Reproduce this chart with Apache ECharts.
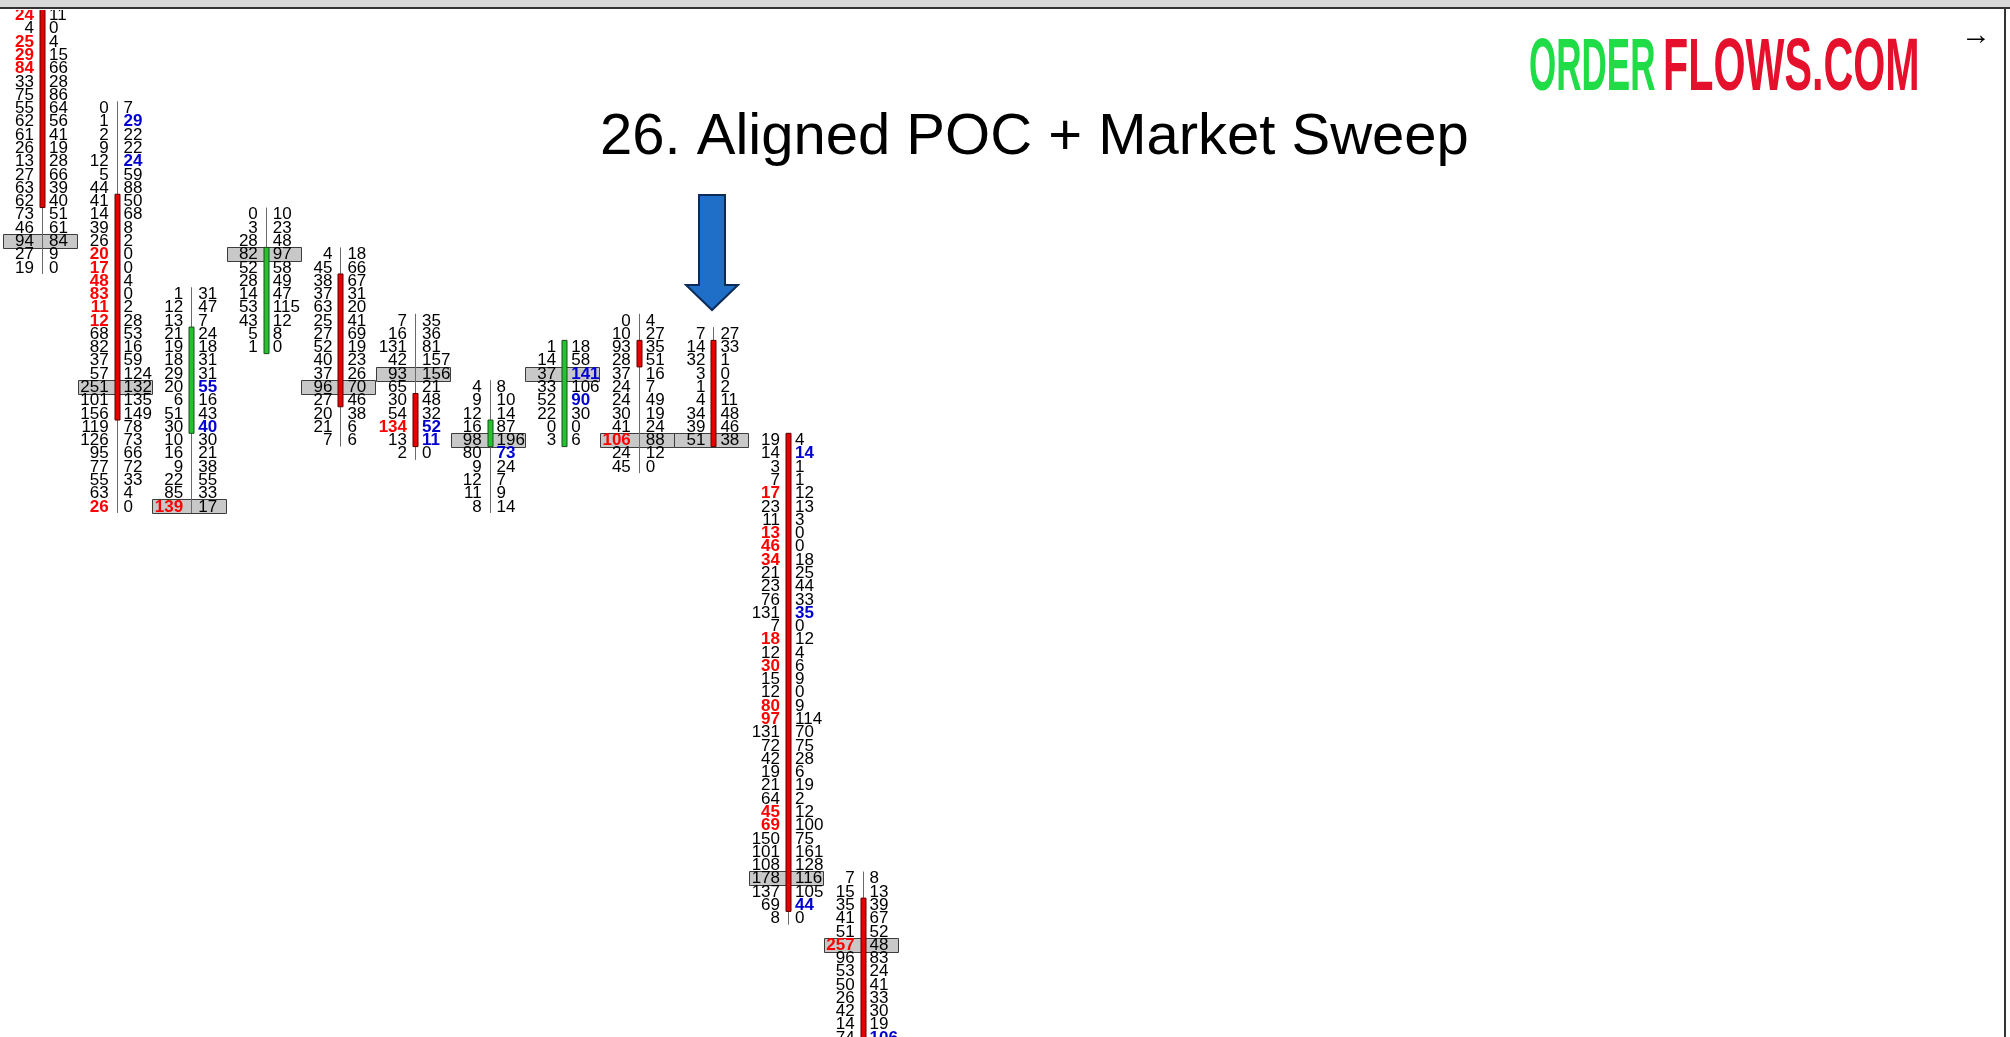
<!DOCTYPE html>
<html>
<head>
<meta charset="utf-8">
<script src="https://cdn.jsdelivr.net/npm/echarts@6/dist/echarts.min.js"></script>
<style>
  html, body { margin: 0; padding: 0; background: #fff; }
  #chart { width: 2010px; height: 1037px; }
</style>
</head>
<body>
<div id="chart"></div>
<script>
// footprint columns, left to right. row 0 = top visible price level, one row per tick
var topRows = [0, 7, 21, 15, 18, 23, 28, 25, 23, 24, 32, 65];

var bids = [
  [24, 4, 25, 29, 84, 33, 75, 55, 62, 61, 26, 13, 27, 63, 62, 73, 46, 94, 27, 19],
  [0, 1, 2, 9, 12, 5, 44, 41, 14, 39, 26, 20, 17, 48, 83, 11, 12, 68, 82, 37, 57, 251, 101, 156, 119, 126, 95, 77, 55, 63, 26],
  [1, 12, 13, 21, 19, 18, 29, 20, 6, 51, 30, 10, 16, 9, 22, 85, 139],
  [0, 3, 28, 82, 52, 28, 14, 53, 43, 5, 1],
  [4, 45, 38, 37, 63, 25, 27, 52, 40, 37, 96, 27, 20, 21, 7],
  [7, 16, 131, 42, 93, 65, 30, 54, 134, 13, 2],
  [4, 9, 12, 16, 98, 80, 9, 12, 11, 8],
  [1, 14, 37, 33, 52, 22, 0, 3],
  [0, 10, 93, 28, 37, 24, 24, 30, 41, 106, 24, 45],
  [7, 14, 32, 3, 1, 4, 34, 39, 51],
  [19, 14, 3, 7, 17, 23, 11, 13, 46, 34, 21, 23, 76, 131, 7, 18, 12, 30, 15, 12, 80, 97, 131, 72, 42, 19, 21, 64, 45, 69, 150, 101, 108, 178, 137, 69, 8],
  [7, 15, 35, 41, 51, 257, 96, 53, 50, 26, 42, 14, 74]
];

var asks = [
  [11, 0, 4, 15, 66, 28, 86, 64, 56, 41, 19, 28, 66, 39, 40, 51, 61, 84, 9, 0],
  [7, 29, 22, 22, 24, 59, 88, 50, 68, 8, 2, 0, 0, 4, 0, 2, 28, 53, 16, 59, 124, 132, 135, 149, 78, 73, 66, 72, 33, 4, 0],
  [31, 47, 7, 24, 18, 31, 31, 55, 16, 43, 40, 30, 21, 38, 55, 33, 17],
  [10, 23, 48, 97, 58, 49, 47, 115, 12, 8, 0],
  [18, 66, 67, 31, 20, 41, 69, 19, 23, 26, 70, 46, 38, 6, 6],
  [35, 36, 81, 157, 156, 21, 48, 32, 52, 11, 0],
  [8, 10, 14, 87, 196, 73, 24, 7, 9, 14],
  [18, 58, 141, 106, 90, 30, 0, 6],
  [4, 27, 35, 51, 16, 7, 49, 19, 24, 88, 12, 0],
  [27, 33, 1, 0, 2, 11, 48, 46, 38],
  [4, 14, 1, 1, 12, 13, 3, 0, 0, 18, 25, 44, 33, 35, 0, 12, 4, 6, 9, 0, 9, 114, 70, 75, 28, 6, 19, 2, 12, 100, 75, 161, 128, 116, 105, 44, 0],
  [8, 13, 39, 67, 52, 48, 83, 24, 41, 33, 30, 19, 106]
];

// index (within column) of the point of control
var pocIdx = [17, 21, 16, 3, 10, 4, 4, 2, 9, 8, 33, 5];

// candle body, in rows
var bodyTop = [0, 14, 24, 18, 20, 29, 31, 25, 25, 25, 32, 67];
var bodyBot = [14, 30, 31, 25, 29, 32, 32, 32, 26, 32, 67, 80];
var bullish = [0, 0, 1, 1, 0, 0, 1, 1, 0, 0, 0, 0];

// imbalance highlights (indices within column)
var redBid = [[0, 2, 3, 4], [11, 12, 13, 14, 15, 16, 30], [16], [], [], [8], [], [], [9], [], [4, 7, 8, 9, 15, 17, 20, 21, 28, 29], [5]];
var blueAsk = [[], [1, 4], [7, 10], [], [], [8, 9], [5], [2, 4], [], [], [1, 13, 35], [12]];

var ROW = 13.28;   // px per price row
var COL = 74.6;    // px per column
var FONT = 'Liberation Sans, Arial, sans-serif';

var bidData = [], askData = [], pocData = [], candleData = [];
bids.forEach(function (col, c) {
  col.forEach(function (v, i) {
    bidData.push([c, topRows[c] + i, v, redBid[c].indexOf(i) >= 0 ? 1 : 0]);
    askData.push([c, topRows[c] + i, asks[c][i], blueAsk[c].indexOf(i) >= 0 ? 1 : 0]);
  });
  pocData.push([c, topRows[c] + pocIdx[c]]);
  candleData.push([c, topRows[c], topRows[c] + col.length - 1, bodyTop[c], bodyBot[c], bullish[c]]);
});

function textRender(side) {
  return function (params, api) {
    var p = api.coord([api.value(0), api.value(1)]);
    var hot = api.value(3);
    var color = hot ? (side === 'bid' ? '#ff0000' : '#0000d2') : '#000';
    return {
      type: 'text',
      x: p[0] + (side === 'bid' ? -8 : 7),
      y: p[1] + 0.5,
      style: {
        text: String(api.value(2)),
        align: side === 'bid' ? 'right' : 'left',
        verticalAlign: 'middle',
        fill: color,
        font: (hot ? 'bold ' : '') + '17px ' + FONT
      }
    };
  };
}

var chart = echarts.init(document.getElementById('chart'));

chart.setOption({
  backgroundColor: '#fff',
  animation: false,
  grid: { left: 0, right: 0, top: 10, bottom: 0 },
  xAxis: { type: 'value', min: -42 / COL, max: (2010 - 42) / COL, show: false },
  yAxis: { type: 'value', inverse: true, min: -5 / ROW, max: -5 / ROW + 1027 / ROW, show: false },
  series: [
    {
      type: 'custom',
      clip: true,
      z: 1,
      data: pocData,
      encode: { x: 0, y: 1 },
      renderItem: function (params, api) {
        var p = api.coord([api.value(0), api.value(1)]);
        return {
          type: 'rect',
          shape: { x: Math.round(p[0]) - 38.5, y: Math.round(p[1]) - 6.5, width: 74, height: 14 },
          style: { fill: '#c8c8c8', stroke: '#3c3c3c', lineWidth: 1 }
        };
      }
    },
    {
      type: 'custom',
      clip: true,
      z: 2,
      data: candleData,
      encode: { x: 0, y: [1, 2] },
      renderItem: function (params, api) {
        var c = api.value(0);
        var hi = api.coord([c, api.value(1) - 0.5]);
        var lo = api.coord([c, api.value(2) + 0.5]);
        var o = api.coord([c, api.value(3) - 0.5]);
        var cl = api.coord([c, api.value(4) + 0.5]);
        var up = api.value(5);
        var x = Math.round(hi[0]) + 0.5;
        return {
          type: 'group',
          children: [
            { type: 'line', shape: { x1: x, y1: hi[1], x2: x, y2: lo[1] }, style: { stroke: '#6a6a6a', lineWidth: 1 } },
            {
              type: 'rect',
              shape: { x: x - 2.5, y: o[1], width: 5, height: cl[1] - o[1] },
              style: { fill: up ? '#22c32e' : '#e60000', stroke: up ? '#1d4d1d' : '#5c0000', lineWidth: 1 }
            }
          ]
        };
      }
    },
    { type: 'custom', clip: true, z: 3, data: bidData, encode: { x: 0, y: 1 }, renderItem: textRender('bid') },
    { type: 'custom', clip: true, z: 3, data: askData, encode: { x: 0, y: 1 }, renderItem: textRender('ask') }
  ],
  graphic: [
    { type: 'rect', shape: { x: 0, y: 0, width: 2010, height: 7 }, style: { fill: '#d8d8d8' } },
    { type: 'rect', shape: { x: 0, y: 7, width: 2010, height: 2 }, style: { fill: '#333' } },
    { type: 'rect', shape: { x: 2004, y: 7, width: 2, height: 1030 }, style: { fill: '#333' } },
    {
      type: 'text', x: 600, y: 138,
      style: { text: '26. Aligned POC + Market Sweep', font: '58px ' + FONT, fill: '#000', verticalAlign: 'middle' }
    },
    {
      type: 'text', x: 1529, y: 69, scaleX: 0.467,
      style: { text: 'ORDER', font: 'bold 75px ' + FONT, fill: '#1fdc47', verticalAlign: 'middle' }
    },
    {
      type: 'text', x: 1663, y: 69, scaleX: 0.55,
      style: { text: 'FLOWS.COM', font: 'bold 75px ' + FONT, fill: '#e4102c', verticalAlign: 'middle' }
    },
    {
      type: 'text', x: 1976, y: 36,
      style: { text: '→', font: '30px ' + FONT, fill: '#000', align: 'center', verticalAlign: 'middle' }
    },
    {
      type: 'polygon',
      shape: { points: [[699, 195], [725, 195], [725, 285], [738, 285], [712, 310], [686, 285], [699, 285]] },
      style: { fill: '#1f6fc8', stroke: '#0c2b57', lineWidth: 2 }
    }
  ]
});
</script>
</body>
</html>
